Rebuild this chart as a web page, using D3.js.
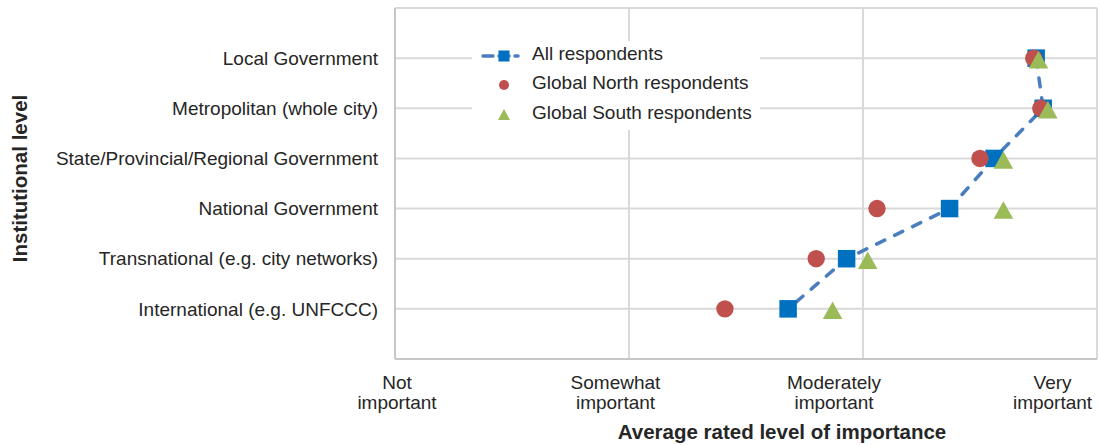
<!DOCTYPE html>
<html>
<head>
<meta charset="utf-8">
<script src="https://cdn.jsdelivr.net/npm/d3@7"></script>
<style>
  html, body { margin: 0; padding: 0; background: #ffffff; }
  svg { display: block; font-family: "Liberation Sans", Arial, Helvetica, sans-serif; }
</style>
</head>
<body>
<svg id="chart" width="1100" height="445"></svg>
<script>
// ---- data ----
const categories = [
  "Local Government",
  "Metropolitan (whole city)",
  "State/Provincial/Regional Government",
  "National Government",
  "Transnational (e.g. city networks)",
  "International (e.g. UNFCCC)"
];
const allRespondents   = [3.74, 3.77, 3.56, 3.37, 2.93, 2.68];
const northRespondents = [3.73, 3.76, 3.50, 3.06, 2.80, 2.41];
const southRespondents = [3.75, 3.79, 3.60, 3.60, 3.02, 2.87];
const xTickValues = [1, 2, 3, 4];
const xTickLabels = [["Not", "important"], ["Somewhat", "important"], ["Moderately", "important"], ["Very", "important"]];
const seriesNames = ["All respondents", "Global North respondents", "Global South respondents"];
const xTitle = "Average rated level of importance";
const yTitle = "Institutional level";

// ---- layout ----
const svg = d3.select("#chart");
const plot = { left: 395, right: 1097, top: 8, bottom: 359 };
const x = d3.scaleLinear().domain([1, 4]).range([plot.left, plot.right]);
const y = d3.scaleLinear().domain([0, categories.length + 1]).range([plot.bottom, plot.top]);
const catPos = (i) => y(categories.length - i);
// tick labels are spread evenly but slightly compressed (as in the source)
const xLabelPos = d3.scaleLinear().domain([1, 4]).range([x(1) + 2, x(3.81)]);

const colors = { all: "#0070C0", north: "#C0504D", south: "#9BBB59", line: "#4A7EBF", grid: "#D9D9D9", axis: "#C6C6C6", text: "#262626" };

// ---- gridlines ----
const g = svg.append("g");
g.selectAll("line.hgrid")
  .data(d3.range(1, categories.length + 2))
  .join("line")
  .attr("x1", plot.left).attr("x2", plot.right)
  .attr("y1", d => y(d)).attr("y2", d => y(d))
  .attr("stroke", colors.grid).attr("stroke-width", 2);
g.selectAll("line.vgrid")
  .data(xTickValues)
  .join("line")
  .attr("x1", d => x(d)).attr("x2", d => x(d))
  .attr("y1", plot.top).attr("y2", plot.bottom)
  .attr("stroke", d => (d === 1 ? colors.axis : colors.grid)).attr("stroke-width", 2);
g.append("line")
  .attr("x1", plot.left).attr("x2", plot.right)
  .attr("y1", plot.bottom).attr("y2", plot.bottom)
  .attr("stroke", colors.axis).attr("stroke-width", 2);

// ---- y category labels ----
svg.append("g").selectAll("text")
  .data(categories)
  .join("text")
  .attr("x", plot.left - 17)
  .attr("y", (d, i) => catPos(i))
  .attr("dy", "0.35em")
  .attr("text-anchor", "end")
  .attr("font-size", 19)
  .attr("fill", colors.text)
  .text(d => d);

// ---- x tick labels ----
const xt = svg.append("g").selectAll("text")
  .data(xTickValues)
  .join("text")
  .attr("text-anchor", "middle")
  .attr("font-size", 19)
  .attr("fill", colors.text);
xt.each(function (d, i) {
  const t = d3.select(this);
  xTickLabels[i].forEach((line, k) => {
    t.append("tspan").attr("x", xLabelPos(d)).attr("y", plot.bottom + 30 + k * 20).text(line);
  });
});

// ---- axis titles ----
svg.append("text")
  .attr("x", 782).attr("y", 439)
  .attr("text-anchor", "middle")
  .attr("font-size", 20.5).attr("font-weight", "bold")
  .attr("fill", colors.text)
  .text(xTitle);
svg.append("text")
  .attr("transform", `translate(27,${(plot.top + plot.bottom) / 2 - 5}) rotate(-90)`)
  .attr("text-anchor", "middle")
  .attr("font-size", 20.5).attr("font-weight", "bold")
  .attr("fill", colors.text)
  .text(yTitle);

// ---- legend (white box covering gridlines) ----
const lg = svg.append("g");
lg.append("rect").attr("x", 472).attr("y", 41).attr("width", 288).attr("height", 89).attr("fill", "#ffffff");
const legendRows = [56, 85, 115];
lg.append("line").attr("x1", 483).attr("x2", 518).attr("y1", legendRows[0]).attr("y2", legendRows[0])
  .attr("stroke", colors.line).attr("stroke-width", 3.5).attr("stroke-dasharray", "10,6").attr("stroke-linecap", "round");
lg.append("rect").attr("x", 504 - 5.5).attr("y", legendRows[0] - 5.5).attr("width", 11).attr("height", 11).attr("fill", colors.all);
lg.append("circle").attr("cx", 504).attr("cy", legendRows[1]).attr("r", 5).attr("fill", colors.north);
lg.append("path").attr("d", `M${504},${legendRows[2] - 6}L${510},${legendRows[2] + 5}L${498},${legendRows[2] + 5}Z`).attr("fill", colors.south);
lg.selectAll("text")
  .data(seriesNames)
  .join("text")
  .attr("x", 532)
  .attr("y", (d, i) => legendRows[i] + 4)
  .attr("font-size", 19)
  .attr("fill", colors.text)
  .text(d => d);

// ---- dashed line for all respondents ----
const lineGen = d3.line().x(d => x(d.v)).y(d => catPos(d.i));
const allPts = allRespondents.map((v, i) => ({ v, i }));
svg.append("path")
  .datum(allPts)
  .attr("d", lineGen)
  .attr("fill", "none")
  .attr("stroke", colors.line)
  .attr("stroke-width", 3.5)
  .attr("stroke-dasharray", "9,11")
  .attr("stroke-linecap", "round");

// ---- markers ----
const sq = 17.5;
svg.append("g").selectAll("rect")
  .data(allPts)
  .join("rect")
  .attr("x", d => x(d.v) - sq / 2)
  .attr("y", d => catPos(d.i) - sq / 2)
  .attr("width", sq).attr("height", sq)
  .attr("fill", colors.all);

svg.append("g").selectAll("circle")
  .data(northRespondents.map((v, i) => ({ v, i })))
  .join("circle")
  .attr("cx", d => x(d.v))
  .attr("cy", d => catPos(d.i))
  .attr("r", 8.7)
  .attr("fill", colors.north);

const tw = 19.5, th = 17.5;
svg.append("g").selectAll("path")
  .data(southRespondents.map((v, i) => ({ v, i })))
  .join("path")
  .attr("d", d => {
    const cx = x(d.v), cy = catPos(d.i) + 1.5;
    return `M${cx},${cy - th / 2}L${cx + tw / 2},${cy + th / 2}L${cx - tw / 2},${cy + th / 2}Z`;
  })
  .attr("fill", colors.south);
</script>
</body>
</html>
